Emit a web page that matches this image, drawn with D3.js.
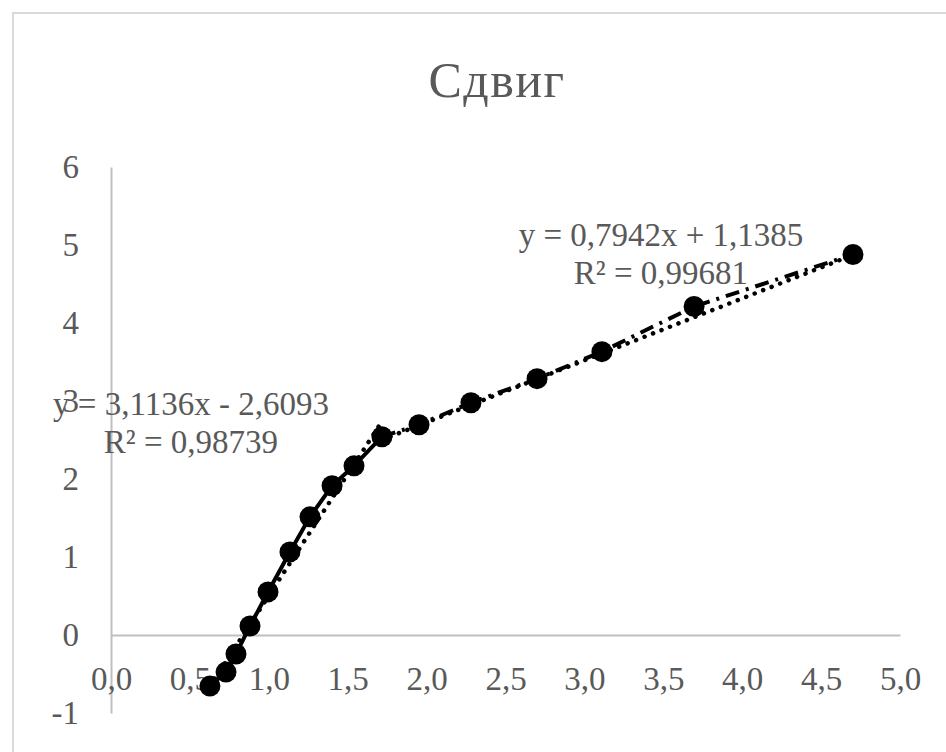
<!DOCTYPE html>
<html>
<head>
<meta charset="utf-8">
<script src="https://cdn.jsdelivr.net/npm/d3@7"></script>
<style>
  html, body { margin: 0; padding: 0; background: #fff; }
  svg { display: block; }
  text { font-family: "Liberation Serif", "DejaVu Serif", serif; fill: #595959; }
</style>
</head>
<body>
<svg id="chart" width="946" height="752"></svg>
<script>
// Lower branch (steep section)
const xLow = [0.627, 0.729, 0.792, 0.881, 0.995, 1.134, 1.261, 1.401, 1.540, 1.717];
const yLow = [-0.655, -0.475, -0.244, 0.116, 0.552, 1.065, 1.515, 1.913, 2.169, 2.542];
// Upper branch (gentle section)
const xHigh = [1.717, 1.952, 2.281, 2.700, 3.111, 3.695, 4.702];
const yHigh = [2.542, 2.696, 2.978, 3.286, 3.633, 4.211, 4.878];

// Linear trend coefficients: [slope, intercept, R²]
const trendLow = [3.1136, -2.6093, 0.98739];
const trendHigh = [0.7942, 1.1385, 0.99681];

const xTicks = [0, 0.5, 1, 1.5, 2, 2.5, 3, 3.5, 4, 4.5, 5];
const yTicks = [-1, 0, 1, 2, 3, 4, 5, 6];
const title = "Сдвиг";

const svg = d3.select("#chart");
const W = 946, H = 752;
const fmtNum = (v, d) => d3.format("." + d + "f")(v).replace(".", ",").replace("\u2212", "-");

// chart frame
svg.append("rect")
  .attr("x", 13).attr("y", 13).attr("width", W + 20).attr("height", H + 20)
  .attr("fill", "#fff").attr("stroke", "#d9d9d9").attr("stroke-width", 2);

const x = d3.scaleLinear().domain([0, 5]).range([111, 900]);
const y = d3.scaleLinear().domain([-1, 6]).range([713, 167]);

// title
svg.append("text")
  .attr("x", 497).attr("y", 97)
  .attr("text-anchor", "middle")
  .attr("font-size", 50)
  .attr("letter-spacing", 1.5)
  .text(title);

// y axis
const yAxis = svg.append("g")
  .attr("transform", `translate(${x(0)},0)`)
  .call(d3.axisLeft(y).tickValues(yTicks).tickSize(0).tickPadding(32)
    .tickFormat(d => d3.format("d")(d).replace("\u2212", "-")));
yAxis.select(".domain").attr("stroke", "#bfbfbf").attr("stroke-width", 2);
yAxis.selectAll("text").attr("font-size", 33).attr("fill", "#595959")
  .style("font-family", "'Liberation Serif', serif");

// x axis along y = 0
const xAxis = svg.append("g")
  .attr("transform", `translate(0,${y(0)})`)
  .call(d3.axisBottom(x).tickValues(xTicks).tickSize(0).tickPadding(32).tickFormat(d => fmtNum(d, 1)));
xAxis.select(".domain").attr("stroke", "#bfbfbf").attr("stroke-width", 2);
xAxis.selectAll("text").attr("font-size", 33).attr("fill", "#595959")
  .style("font-family", "'Liberation Serif', serif");

const line = d3.line().x(d => x(d[0])).y(d => y(d[1]));
const lowPts = xLow.map((v, i) => [v, yLow[i]]);
const highPts = xHigh.map((v, i) => [v, yHigh[i]]);

// series lines
svg.append("path").datum(lowPts)
  .attr("d", line).attr("fill", "none").attr("stroke", "#000").attr("stroke-width", 4);
svg.append("path").datum(highPts)
  .attr("d", line).attr("fill", "none").attr("stroke", "#000").attr("stroke-width", 4)
  .attr("stroke-dasharray", "14,7,3,7");

// trend lines over each branch's x range
function trendPts(xs, t) {
  const lo = d3.min(xs), hi = d3.max(xs);
  return [[lo, t[0] * lo + t[1]], [hi, t[0] * hi + t[1]]];
}
[[xLow, trendLow], [xHigh, trendHigh]].forEach(([xs, t]) => {
  svg.append("path").datum(trendPts(xs, t))
    .attr("d", line).attr("fill", "none").attr("stroke", "#000").attr("stroke-width", 4.5)
    .attr("stroke-linecap", "round").attr("stroke-dasharray", "0.1,9");
});

// markers
svg.append("g").selectAll("circle")
  .data(lowPts.concat(highPts.slice(1)))
  .join("circle")
  .attr("cx", d => x(d[0])).attr("cy", d => y(d[1])).attr("r", 10.5)
  .attr("fill", "#000");

// trend equations
function eqLabel(cx, by, t) {
  const sign = t[1] < 0 ? " - " : " + ";
  const g = svg.append("g");
  g.append("text").attr("x", cx).attr("y", by).attr("text-anchor", "middle").attr("font-size", 33)
    .text("y = " + fmtNum(t[0], 4) + "x" + sign + fmtNum(Math.abs(t[1]), 4));
  g.append("text").attr("x", cx).attr("y", by + 38).attr("text-anchor", "middle").attr("font-size", 33)
    .text("R² = " + fmtNum(t[2], 5));
}
eqLabel(191, 415, trendLow);
eqLabel(661, 246, trendHigh);
</script>
</body>
</html>
